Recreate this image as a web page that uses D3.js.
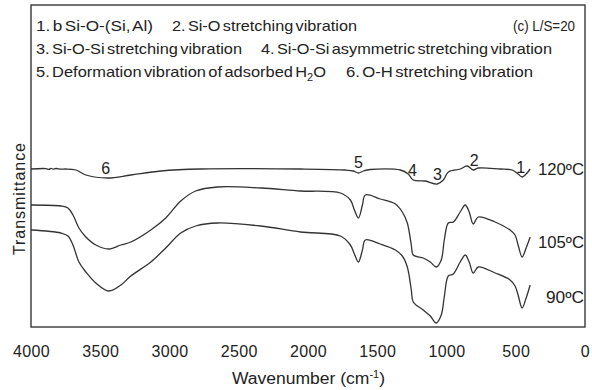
<!DOCTYPE html>
<head>
	<meta charset="utf-8">
	<title>FTIR spectra L/S=20</title>
	<script src="https://cdn.jsdelivr.net/npm/d3@7"></script>
	<style>
		body { margin: 0; background: #fff; }
		text { font-family: "Liberation Sans", Arial, sans-serif; fill: #222; }
	</style>
</head>

<body>
	<div id="chart"></div>

  <script>
	// wavenumber (cm-1) and transmittance (arbitrary units)
	var wn120 = [4000, 3892, 3870, 3856, 3840, 3820, 3784, 3748, 3676, 3604, 3445, 3279, 3063, 2775, 2054, 1730, 1672, 1636, 1600, 1550, 1333, 1276, 1240, 1153, 1067, 1023, 987, 901, 851, 807, 771, 613, 526, 483, 454, 425, 396];
	var t120 = [158, 158.4, 157.6, 158.6, 157.8, 158.5, 157.8, 158, 157, 152, 149, 152, 156, 158, 158, 157, 156, 154, 156, 157.5, 157, 153, 147, 146, 143, 147, 155, 158, 161, 157, 159, 158, 157, 153, 150, 153, 158];

	var wnLow = [4000, 3784, 3733, 3697, 3654, 3604, 3532, 3438, 3351, 3279, 3135, 3027, 2919, 2811, 2652, 2342, 2054, 1766, 1694, 1665, 1636, 1607, 1586, 1478, 1369, 1319, 1283, 1254, 1240, 1168, 1117, 1074, 1038, 1016, 987, 951, 901, 865, 836, 807, 771, 649, 541, 505, 483, 454, 425, 396];
	var t105 = [122, 121, 119, 112, 99, 90, 82, 78, 82, 85, 97, 109, 126, 136, 140, 139, 136, 134, 127, 117, 109, 122, 132, 128, 123, 115, 104, 82, 72, 69, 65, 60, 67, 87, 104, 105, 115, 122, 115, 103, 110, 105, 97, 92, 82, 70, 79, 90];
	var t90 = [97, 94, 91, 82, 65, 55, 44, 36, 42, 51, 65, 79, 94, 101, 104, 101, 95, 91, 82, 73, 65, 77, 87, 83, 77, 71, 60, 37, 25, 17, 11, 4, 12, 30, 51, 53, 65, 72, 65, 54, 60, 54, 47, 41, 32, 19, 29, 42];

	var seriesNames = ["120\u00baC", "105\u00baC", "90\u00baC"];
	var xTicks = [4000, 3500, 3000, 2500, 2000, 1500, 1000, 500, 0];

	var notes = [
		["1. b Si-O-(Si, Al)", "2. Si-O stretching vibration"],
		["3. Si-O-Si stretching vibration", "4. Si-O-Si asymmetric stretching vibration"],
		["5. Deformation vibration of adsorbed H", "6. O-H stretching vibration"]
	];
	// peak numbers and the wavenumber they sit over on the 120 C curve
	var peakLabels = ["1", "2", "3", "4", "5", "6"];
	var peakWn = [465, 800, 1065, 1245, 1636, 3460];
	var peakT = [160, 167, 153, 157, 165, 159];

	var width = 592, height = 390;
	var mLeft = 31, mRight = 585, mTop = 5, mBottom = 327;

	var svg = d3.select("#chart").append("svg")
		.attr("width", width)
		.attr("height", height);

	var x = d3.scaleLinear().domain([4000, 0]).range([mLeft, mRight]);
	var y = d3.scaleLinear().domain([0, 322]).range([mBottom, mTop]);

	// frame
	svg.append("rect")
		.attr("x", mLeft).attr("y", mTop)
		.attr("width", mRight - mLeft).attr("height", mBottom - mTop)
		.style("fill", "none")
		.style("stroke", "#444")
		.style("stroke-width", 1.5);

	var axis = d3.axisBottom(x).tickValues(xTicks).tickSize(0).tickPadding(19)
		.tickFormat(d3.format("d"));
	var gx = svg.append("g")
		.attr("transform", "translate(0," + mBottom + ")")
		.call(axis);
	gx.select(".domain").remove();
	gx.selectAll("text")
		.style("font-family", "Liberation Sans, Arial, sans-serif")
		.style("font-size", "16px")
		.style("letter-spacing", "0.4px")
		.style("fill", "#222");

	var xTitle = svg.append("text")
		.attr("x", 232).attr("y", 384)
		.attr("textLength", 153)
		.attr("lengthAdjust", "spacingAndGlyphs")
		.style("font-size", "16px");
	xTitle.append("tspan").text("Wavenumber (cm");
	xTitle.append("tspan").attr("dy", -6).style("font-size", "10px").text("-1");
	xTitle.append("tspan").attr("dy", 6).text(")");

	svg.append("text")
		.attr("transform", "translate(25,199) rotate(-90)")
		.attr("text-anchor", "middle")
		.attr("textLength", 112)
		.style("font-size", "16px")
		.text("Transmittance");

	// lines
	var curves = [
		{name: seriesNames[0], wn: wn120, t: t120},
		{name: seriesNames[1], wn: wnLow, t: t105},
		{name: seriesNames[2], wn: wnLow, t: t90}
	];
	var line = d3.line()
		.x(function (d) { return x(d[0]); })
		.y(function (d) { return y(d[1]); })
		.curve(d3.curveCatmullRom.alpha(0.5));

	var labelShift = [0, -5, -12];
	curves.forEach(function (c, i) {
		var pts = d3.zip(c.wn, c.t);
		svg.append("path")
			.attr("d", line(pts))
			.style("fill", "none")
			.style("stroke", "#333")
			.style("stroke-width", 1.3);
		var last = pts[pts.length - 1];
		var w = i === 2 ? 38 : 46;
		svg.append("text")
			.attr("x", mRight - 1 - w)
			.attr("y", y(last[1] + labelShift[i]) + 6)
			.attr("textLength", w)
			.attr("lengthAdjust", "spacingAndGlyphs")
			.style("font-size", "16px")
			.text(c.name);
	});

	peakLabels.forEach(function (p, i) {
		svg.append("text")
			.attr("x", x(peakWn[i])).attr("y", y(peakT[i]) + 6)
			.attr("text-anchor", "middle")
			.style("font-size", "16px")
			.text(p);
	});

	// notes in the top of the frame
	var noteX = [[36, 172], [36, 261], [36, 346]];
	var noteW = [[117, 185], [206, 291], [290, 187]];
	var noteY = [31, 54, 77];
	notes.forEach(function (row, r) {
		row.forEach(function (s, k) {
			var t = svg.append("text")
				.attr("x", noteX[r][k]).attr("y", noteY[r])
				.attr("textLength", noteW[r][k])
				.attr("lengthAdjust", "spacingAndGlyphs")
				.style("font-size", "15px")
				.style("word-spacing", "-2px");
			t.append("tspan").text(s);
			if (r === 2 && k === 0) {
				t.append("tspan").attr("dy", 4).style("font-size", "10px").text("2");
				t.append("tspan").attr("dy", -4).text("O");
			}
		});
	});
	svg.append("text")
		.attr("x", 513).attr("y", 31)
		.attr("textLength", 62)
		.attr("lengthAdjust", "spacingAndGlyphs")
		.style("font-size", "15px")
		.text("(c) L/S=20");
	</script>
</body>
</html>
